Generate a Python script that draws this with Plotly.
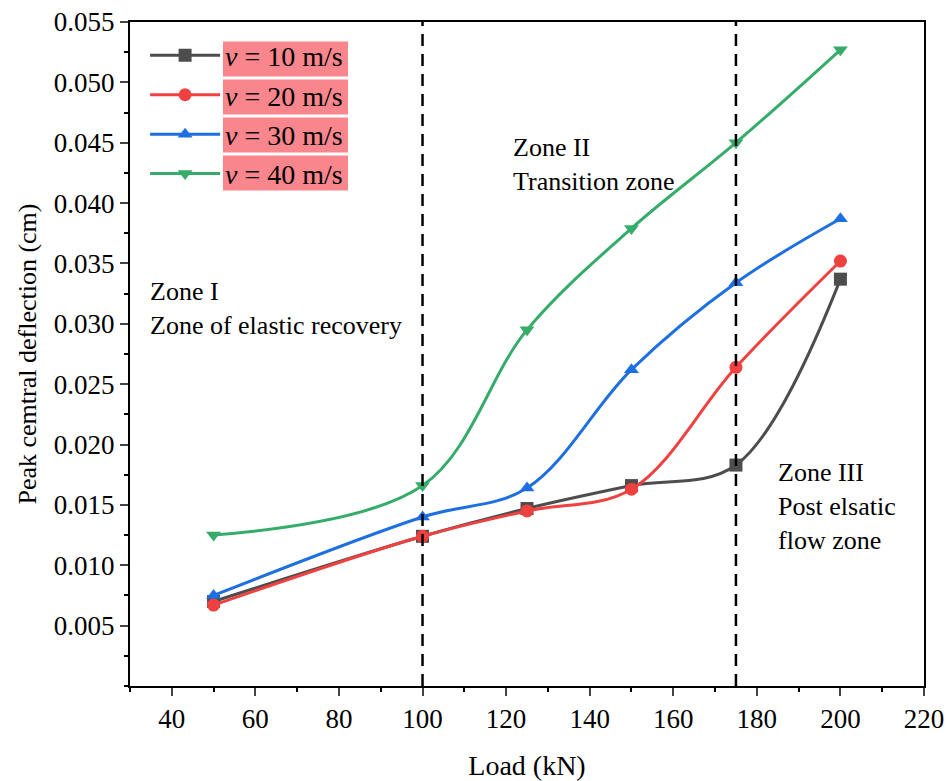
import plotly.graph_objects as go

load = [50, 100, 125, 150, 175, 200]
v10 = [0.0070, 0.0124, 0.0147, 0.0166, 0.0183, 0.0337]
v20 = [0.0067, 0.0124, 0.0145, 0.0163, 0.0264, 0.0352]
v30 = [0.0075, 0.0140, 0.0164, 0.0262, 0.0334, 0.0387]
v40 = [0.0125, 0.0166, 0.0295, 0.0379, 0.0450, 0.0527]
series_names = ["<i>v</i> = 10 m/s", "<i>v</i> = 20 m/s", "<i>v</i> = 30 m/s", "<i>v</i> = 40 m/s"]
zone_bounds = [100, 175]
y_ticks = [0.005, 0.010, 0.015, 0.020, 0.025, 0.030, 0.035, 0.040, 0.045, 0.050, 0.055]
x_ticks = [40, 60, 80, 100, 120, 140, 160, 180, 200, 220]

colors = ["#4d4d4d", "#f04141", "#1e6fe0", "#36ac6b"]
symbols = ["square", "circle", "triangle-up", "triangle-down"]
FONT = "Liberation Serif, Times New Roman, serif"

fig = go.Figure()
for name, vals, c, s in zip(series_names, [v10, v20, v30, v40], colors, symbols):
    fig.add_trace(go.Scatter(
        x=load, y=vals, name=name, mode="lines+markers",
        line=dict(color=c, width=3, shape="spline", smoothing=1.0),
        marker=dict(color=c, symbol=s, size=13),
    ))

for xb in zone_bounds:
    fig.add_shape(type="line", xref="x", yref="paper", x0=xb, x1=xb, y0=0, y1=1,
                  line=dict(color="black", width=2.5, dash="12px,8px"), layer="above")

# pink highlight boxes behind the legend labels (plot area: 130..924 px wide, 22..686 px tall)
PW, PH = 794.0, 664.0
for cy in [59, 97, 135, 173]:
    fig.add_shape(type="rect", xref="paper", yref="paper",
                  x0=(223 - 130) / PW, x1=(348 - 130) / PW,
                  y0=(686 - (cy + 17.5)) / PH, y1=(686 - (cy - 17.5)) / PH,
                  fillcolor="#f9868d", line=dict(width=0), layer="below")

ann_font = dict(family=FONT, size=26, color="black")
fig.add_annotation(x=34.3, y=0.03123, xref="x", yref="y", text="Zone I<br>Zone of elastic recovery",
                   showarrow=False, xanchor="left", yanchor="middle", align="left", font=ann_font)
fig.add_annotation(x=121.2, y=0.0432, xref="x", yref="y", text="Zone II<br>Transition zone",
                   showarrow=False, xanchor="left", yanchor="middle", align="left", font=ann_font)
fig.add_annotation(x=184.6, y=0.01483, xref="x", yref="y", text="Zone III<br>Post elsatic<br>flow zone",
                   showarrow=False, xanchor="left", yanchor="middle", align="left", font=ann_font)

fig.update_layout(
    width=950, height=781,
    margin=dict(l=130, r=26, t=22, b=95, autoexpand=False),
    paper_bgcolor="white", plot_bgcolor="white",
    font=dict(family=FONT, size=26, color="black"),
    showlegend=True,
    legend=dict(x=0.019, y=0.987, xanchor="left", yanchor="top", itemwidth=70,
                bgcolor="rgba(0,0,0,0)", font=dict(family=FONT, size=28, color="black"),
                tracegroupgap=0),
    xaxis=dict(range=[30, 220], tickvals=x_ticks, ticks="outside", ticklen=8, tickwidth=2,
               showline=True, linewidth=2, linecolor="black", mirror=True, showgrid=False,
               zeroline=False, tickfont=dict(family=FONT, size=27), automargin=False,
               minor=dict(dtick=10, ticks="outside", ticklen=4, tickwidth=2, tickcolor="black", showgrid=False),
               title=dict(text="Load (kN)", font=dict(family=FONT, size=28), standoff=22)),
    yaxis=dict(range=[0, 0.055], tickvals=y_ticks, tickformat=".3f", ticks="outside", ticklen=8, tickwidth=2,
               showline=True, linewidth=2, linecolor="black", mirror=True, showgrid=False,
               zeroline=False, tickfont=dict(family=FONT, size=27), automargin=False,
               minor=dict(dtick=0.0025, tick0=0, ticks="outside", ticklen=4, tickwidth=2, tickcolor="black", showgrid=False),
               title=dict(text="Peak cemtral deflection (cm)", font=dict(family=FONT, size=26), standoff=10)),
)

fig.write_html("out.html", post_script="document.body.style.margin='0';",
               config={"displayModeBar": False})
